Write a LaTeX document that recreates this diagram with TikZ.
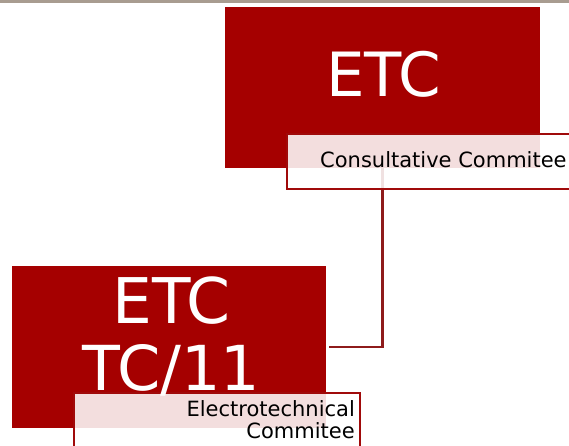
\documentclass[tikz,border=0pt]{standalone}
\usepackage{fontspec}
\setmainfont{DejaVu Sans}
\definecolor{etcred}{HTML}{A50000}
\definecolor{capborder}{HTML}{A00A0A}
\definecolor{linkred}{HTML}{8E1B1B}
\definecolor{bargray}{HTML}{A89C90}
\begin{document}
\begin{tikzpicture}[x=1pt,y=-1pt,
  redbox/.style={fill=etcred,draw=none,inner sep=0pt,outer sep=0pt},
  capbox/.style={draw=capborder,line width=2pt,fill=white,fill opacity=0.87,inner sep=0pt,outer sep=0pt},
  bigtext/.style={text=white,inner sep=0pt,font=\fontsize{#1}{#1}\selectfont},
  smalltext/.style={text=black,inner sep=0pt,font=\fontsize{#1}{#1}\selectfont},
  link/.style={draw=linkred,line width=2.2pt}]
\useasboundingbox (0,0) rectangle (569,446);
\clip (0,0) rectangle (569,446);
\fill[bargray] (0,0) rectangle (569,2.7);
\node[redbox,minimum width=315pt,minimum height=161pt] (etc) at (382.5,87.5) {};
\node[redbox,minimum width=314pt,minimum height=162pt] (tc) at (169,347) {};
\draw[link] (etc.south) |- ([xshift=3pt]tc.east);
\node[capbox,minimum width=289pt,minimum height=55pt] (cap1) at (431.5,161.5) {};
\node[capbox,minimum width=286pt,minimum height=59pt] (cap2) at (217,422.5) {};
\node[bigtext=61,anchor=base] (t1) at (383.5,96.7) {ETC};
\node[bigtext=63,anchor=base] (t2) at (171.5,323.3) {ETC};
\node[bigtext=62,anchor=base] (t3) at (171.5,390.7) {TC/11};
\node[smalltext=21,anchor=base west] (c1) at (320,167.7) {Consultative Commitee};
\node[smalltext=21,anchor=base east] (c2) at (355,416.7) {Electrotechnical};
\node[smalltext=21,anchor=base east] (c3) at (355,438) {Commitee};
\end{tikzpicture}
\end{document}
